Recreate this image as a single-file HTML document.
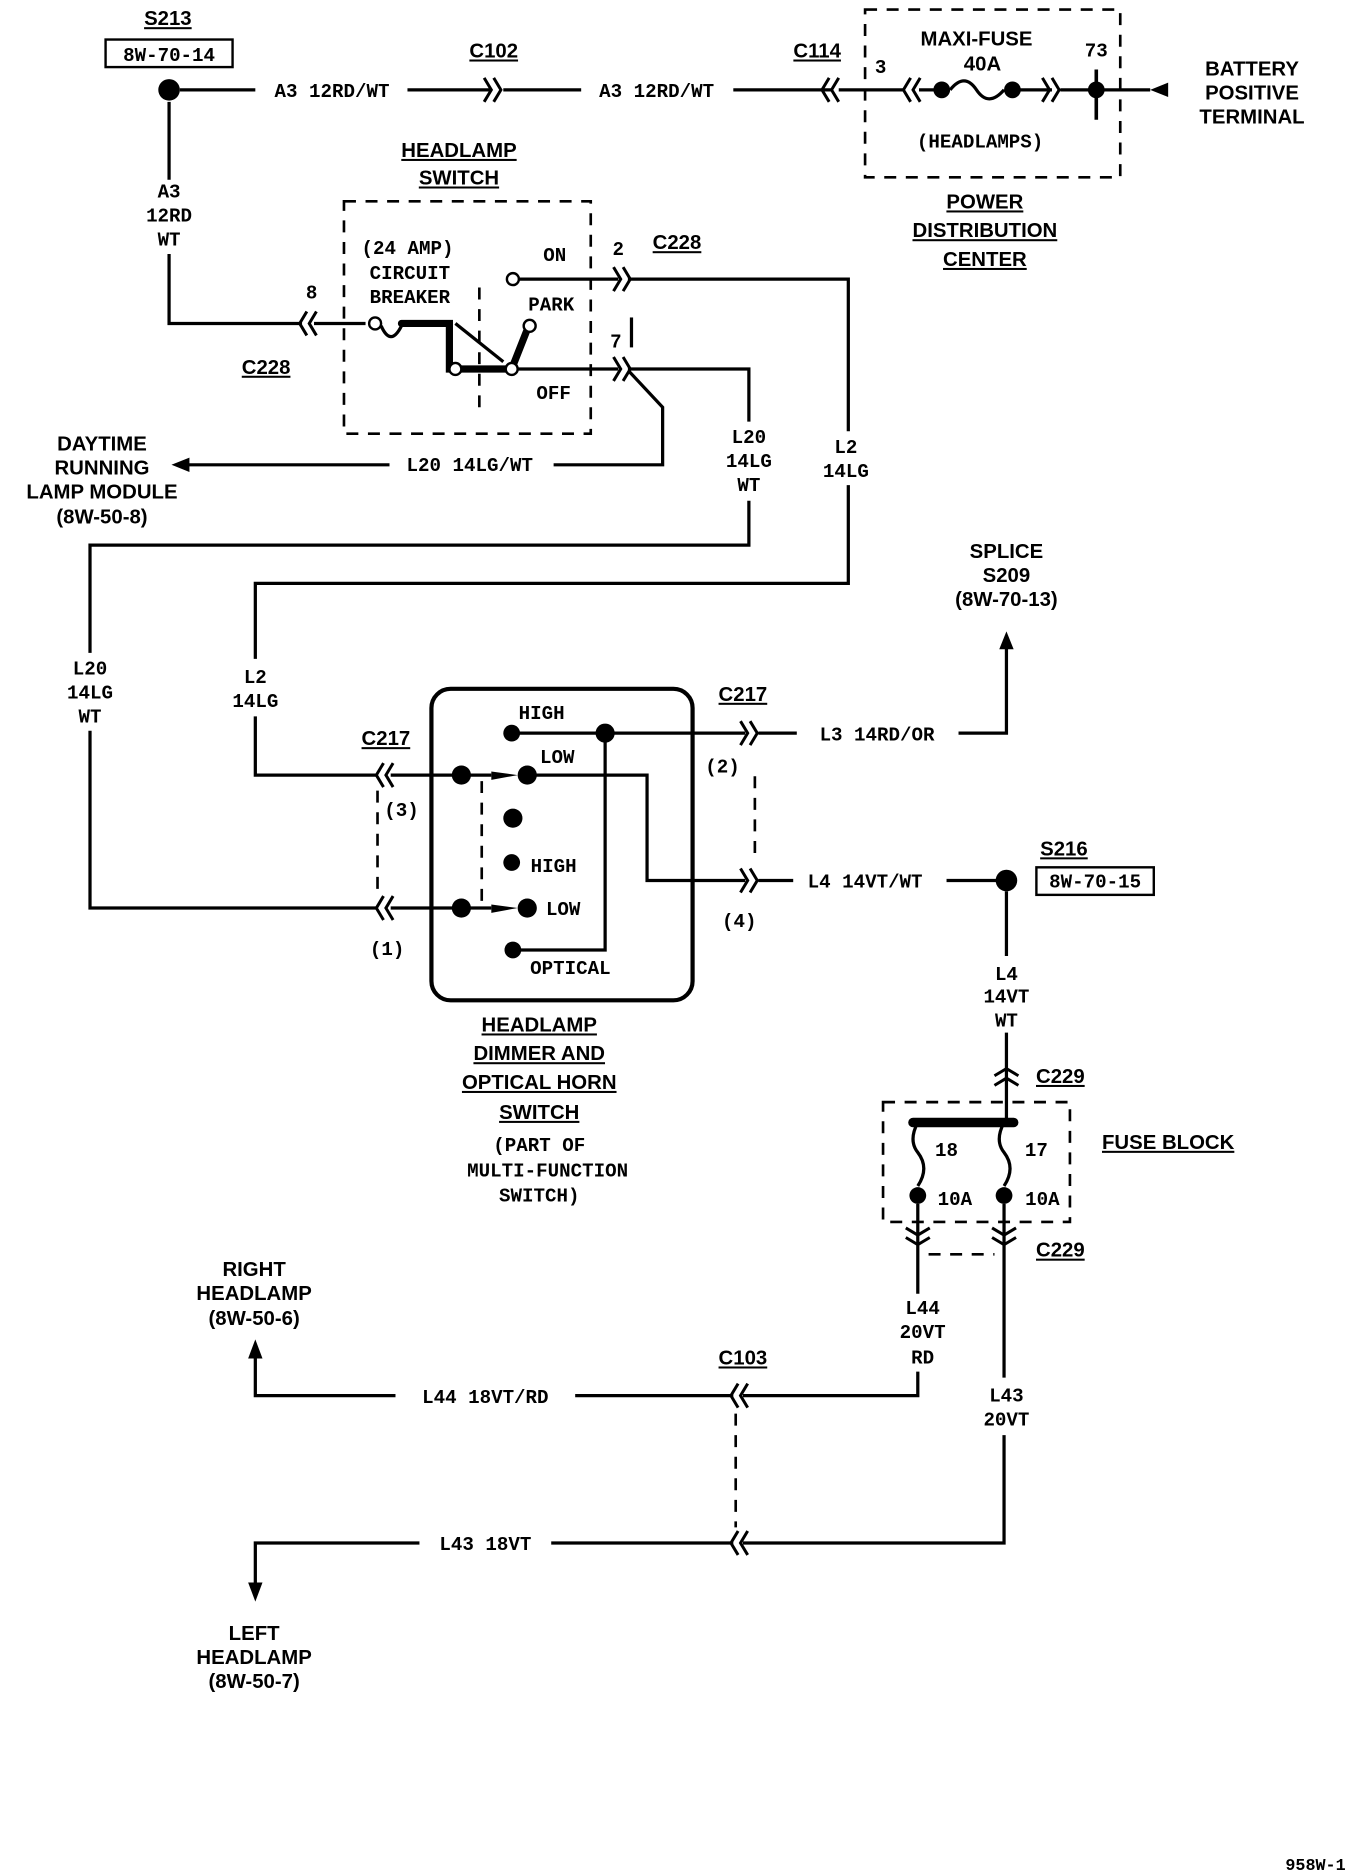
<!DOCTYPE html>
<html><head><meta charset="utf-8"><style>
html,body{margin:0;padding:0;background:#fff;}
svg{display:block}
text{font-family:"Liberation Mono","DejaVu Sans Mono",monospace;font-size:16px;fill:#000;text-anchor:middle;font-weight:bold;}
.b{font-weight:bold;font-family:"Liberation Sans",sans-serif;font-size:17px;}
.u{text-decoration:underline;}
.w{stroke:#000;stroke-width:2.7;fill:none;}
.t{stroke:#000;stroke-width:8;fill:none;stroke-linecap:round;}
.d{stroke:#000;stroke-width:2.2;fill:none;stroke-dasharray:10,8;}
</style></head><body>
<svg width="1360" height="1876" viewBox="0 0 1135 1566" xmlns="http://www.w3.org/2000/svg">
<defs>
<g id="cr"><path d="M-8,-10 L-2,0 L-8,10 M0,-10 L6,0 L0,10" stroke="#000" stroke-width="2.5" fill="none"/></g>
<g id="cl"><path d="M8,-10 L2,0 L8,10 M0,-10 L-6,0 L0,10" stroke="#000" stroke-width="2.5" fill="none"/></g>
<g id="cu"><path d="M-10,8 L0,2 L10,8 M-10,0 L0,-6 L10,0" stroke="#000" stroke-width="2.5" fill="none"/></g>
<g id="cd"><path d="M-10,-8 L0,-2 L10,-8 M-10,0 L0,6 L10,0" stroke="#000" stroke-width="2.5" fill="none"/></g>
</defs>

<text x="140" y="21" class="b u">S213</text>
<rect x="88" y="33" width="106" height="23" fill="none" stroke="#000" stroke-width="2"/>
<text x="141" y="51">8W-70-14</text>
<circle cx="141" cy="75" r="9"/>
<path class="w" d="M150,75H213 M340,75H410 M420,75H485 M612,75H694 M700,75H755 M767,75H785 M845,75H878 M885,75H960"/>
<text x="277" y="81">A3 12RD/WT</text>
<text x="548" y="81">A3 12RD/WT</text>
<use href="#cr" x="412" y="75"/>
<text x="412" y="48" class="b u">C102</text>
<use href="#cl" x="692" y="75"/>
<text x="682" y="48" class="b u">C114</text>
<use href="#cl" x="760" y="75"/>
<circle cx="786" cy="75" r="7"/><circle cx="845" cy="75" r="7"/>
<path class="w" d="M793,75 Q805,60 815,75 Q825,90 838,75"/>
<use href="#cr" x="878" y="75"/>
<path d="M915,58V100" stroke="#000" stroke-width="3"/><circle cx="915" cy="75" r="7"/>
<path d="M960,75 L975,69 L975,81Z"/>
<rect x="722" y="8" width="213" height="140" class="d"/>
<text x="815" y="38" class="b">MAXI-FUSE</text>
<text x="820" y="59" class="b">40A</text>
<text x="735" y="61">3</text><text x="915" y="47">73</text>
<text x="818" y="123">(HEADLAMPS)</text>
<text x="1045" y="63" class="b">BATTERY</text>
<text x="1045" y="83" class="b">POSITIVE</text>
<text x="1045" y="103" class="b">TERMINAL</text>
<text x="822" y="174" class="b u">POWER</text>
<text x="822" y="198" class="b u">DISTRIBUTION</text>
<text x="822" y="222" class="b u">CENTER</text>

<path class="w" d="M141,85V150 M141,212V270H252 M262,270H305"/>
<text x="141" y="165">A3</text><text x="141" y="185">12RD</text><text x="141" y="205">WT</text>
<use href="#cl" x="256" y="270"/>
<text x="260" y="249">8</text>
<text x="222" y="312" class="b u">C228</text>

<text x="383" y="131" class="b u">HEADLAMP</text>
<text x="383" y="154" class="b u">SWITCH</text>
<rect x="287" y="168" width="206" height="194" class="d"/>
<text x="340" y="212">(24 AMP)</text>
<text x="342" y="233">CIRCUIT</text>
<text x="342" y="253">BREAKER</text>
<text x="463" y="218">ON</text>
<text x="460" y="259">PARK</text>
<text x="462" y="333">OFF</text>
<circle cx="313" cy="270" r="5" fill="#fff" stroke="#000" stroke-width="2"/>
<path class="w" d="M318,272 Q326,290 335,272"/>
<path class="t" style="stroke-width:6" d="M335,270H375V308H425 M427,308L440,275"/>
<path class="w" d="M380,270L420,302"/>
<circle cx="380" cy="308" r="5" fill="#fff" stroke="#000" stroke-width="2"/>
<circle cx="427" cy="308" r="5" fill="#fff" stroke="#000" stroke-width="2"/>
<circle cx="442" cy="272" r="5" fill="#fff" stroke="#000" stroke-width="2"/>
<circle cx="428" cy="233" r="5" fill="#fff" stroke="#000" stroke-width="2"/>
<path class="w" d="M433,233H516"/>
<path class="d" d="M400,240V340"/>
<path class="w" d="M432,308H516"/>
<use href="#cr" x="520" y="233"/>
<use href="#cr" x="520" y="308"/>
<path class="w" d="M527,265V290"/>
<text x="516" y="213">2</text><text x="514" y="290">7</text>
<text x="565" y="208" class="b u">C228</text>

<path class="w" d="M524,233H708V360 M708,405V487H213V550 M213,598V647H315"/>
<text x="706" y="378">L2</text><text x="706" y="398">14LG</text>
<text x="213" y="570">L2</text><text x="213" y="590">14LG</text>
<path class="w" d="M524,308H625V352 M625,418V455H75V545 M75,610V758H315"/>
<text x="625" y="370">L20</text><text x="625" y="390">14LG</text><text x="625" y="410">WT</text>
<text x="75" y="563">L20</text><text x="75" y="583">14LG</text><text x="75" y="603">WT</text>
<path class="w" d="M525,310L553,340V388H462 M325,388H155"/>
<text x="392" y="393">L20 14LG/WT</text>
<path d="M143,388 L158,382 L158,394Z"/>
<text x="85" y="376" class="b">DAYTIME</text>
<text x="85" y="396" class="b">RUNNING</text>
<text x="85" y="416" class="b">LAMP MODULE</text>
<text x="85" y="437" class="b">(8W-50-8)</text>

<rect x="360" y="575" width="218" height="260" rx="16" fill="none" stroke="#000" stroke-width="3.5"/>
<text x="452" y="600">HIGH</text>
<circle cx="427" cy="612" r="7"/><circle cx="505" cy="612" r="8"/>
<path class="w" d="M427,612H622 M505,612V793H428"/>
<use href="#cr" x="626" y="612"/>
<path class="w" d="M633,612H665 M800,612H840V540"/>
<path d="M840,527 L834,542 L846,542Z"/>
<text x="732" y="618">L3 14RD/OR</text>
<text x="840" y="466" class="b">SPLICE</text>
<text x="840" y="486" class="b">S209</text>
<text x="840" y="506" class="b">(8W-70-13)</text>
<text x="620" y="585" class="b u">C217</text>
<text x="603" y="645">(2)</text>
<path class="d" d="M630,648V720"/>
<use href="#cl" x="320" y="647"/>
<use href="#cl" x="320" y="758"/>
<path class="w" d="M326,647H410 M326,758H410"/>
<path d="M410,644 L432,647 L410,651Z M410,755 L432,758 L410,762Z"/>
<circle cx="385" cy="647" r="8"/><circle cx="440" cy="647" r="8"/>
<circle cx="385" cy="758" r="8"/><circle cx="440" cy="758" r="8"/>
<circle cx="428" cy="683" r="8"/><circle cx="427" cy="720" r="7"/><circle cx="428" cy="793" r="7"/>
<text x="465" y="637">LOW</text>
<text x="462" y="728">HIGH</text>
<text x="470" y="764">LOW</text>
<text x="476" y="813">OPTICAL</text>
<path class="d" d="M402,652V758"/>
<path class="d" d="M315,660V745"/>
<text x="322" y="622" class="b u">C217</text>
<text x="335" y="681">(3)</text>
<text x="323" y="797">(1)</text>
<path class="w" d="M440,647H540V735H622 M633,735H662 M790,735H835"/>
<use href="#cr" x="626" y="735"/>
<text x="617" y="774">(4)</text>
<text x="722" y="741">L4 14VT/WT</text>
<circle cx="840" cy="735" r="9"/>
<text x="888" y="714" class="b u">S216</text>
<rect x="865" y="724" width="98" height="23" fill="none" stroke="#000" stroke-width="2"/>
<text x="914" y="741">8W-70-15</text>
<text x="450" y="861" class="b u">HEADLAMP</text>
<text x="450" y="885" class="b u">DIMMER AND</text>
<text x="450" y="909" class="b u">OPTICAL HORN</text>
<text x="450" y="934" class="b u">SWITCH</text>
<text x="450" y="961">(PART OF</text>
<text x="457" y="982">MULTI-FUNCTION</text>
<text x="450" y="1003">SWITCH)</text>

<path class="w" d="M840,744V798 M840,862V937"/>
<text x="840" y="818">L4</text><text x="840" y="837">14VT</text><text x="840" y="857">WT</text>
<use href="#cu" x="840" y="898"/>
<text x="885" y="904" class="b u">C229</text>
<rect x="737" y="920" width="156" height="100" class="d"/>
<path class="t" d="M762,937H846"/>
<path class="w" d="M766,937 Q758,952 766,962 Q776,975 766,990 M838,937 Q830,952 838,962 Q848,975 838,990"/>
<circle cx="766" cy="998" r="7"/><circle cx="838" cy="998" r="7"/>
<text x="790" y="965">18</text><text x="865" y="965">17</text>
<text x="797" y="1006">10A</text><text x="870" y="1006">10A</text>
<text x="975" y="959" class="b u">FUSE BLOCK</text>
<path class="w" d="M766,1005V1080 M838,1005V1150"/>
<use href="#cd" x="766" y="1033"/><use href="#cd" x="838" y="1033"/>
<path class="d" d="M775,1047H830"/>
<text x="885" y="1049" class="b u">C229</text>
<text x="770" y="1097">L44</text><text x="770" y="1117">20VT</text><text x="770" y="1138">RD</text>
<path class="w" d="M766,1145V1165H620 M612,1165H480 M330,1165H213V1132"/>
<use href="#cl" x="616" y="1165"/>
<text x="405" y="1171">L44 18VT/RD</text>
<path d="M213,1118 L207,1134 L219,1134Z"/>
<text x="212" y="1065" class="b">RIGHT</text>
<text x="212" y="1085" class="b">HEADLAMP</text>
<text x="212" y="1106" class="b">(8W-50-6)</text>
<text x="620" y="1139" class="b u">C103</text>
<path class="d" d="M614,1180V1275"/>
<text x="840" y="1170">L43</text><text x="840" y="1190">20VT</text>
<path class="w" d="M838,1198V1288H620 M612,1288H460 M350,1288H213V1322"/>
<use href="#cl" x="616" y="1288"/>
<text x="405" y="1294">L43 18VT</text>
<path d="M213,1337 L207,1321 L219,1321Z"/>
<text x="212" y="1369" class="b">LEFT</text>
<text x="212" y="1389" class="b">HEADLAMP</text>
<text x="212" y="1409" class="b">(8W-50-7)</text>
<text x="1098" y="1561" style="font-size:14px;font-weight:bold">958W-1</text>
</svg>
</body></html>
